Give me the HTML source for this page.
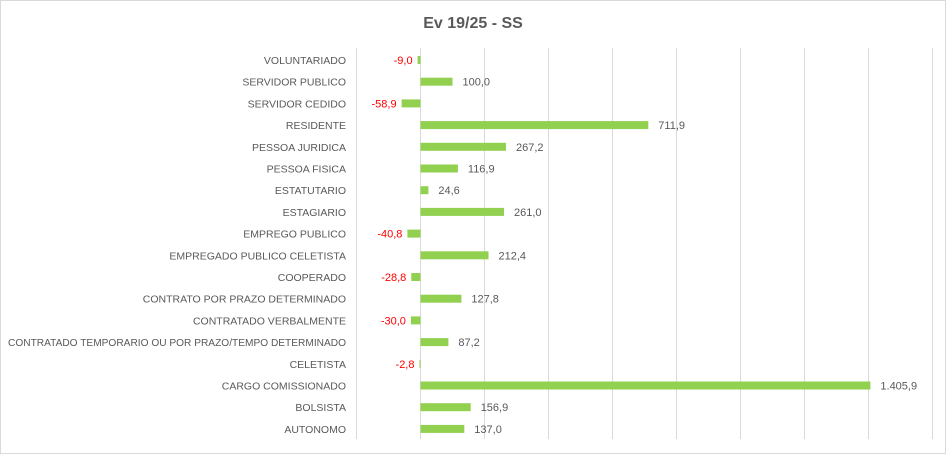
<!DOCTYPE html>
<html><head><meta charset="utf-8"><style>
html,body{margin:0;padding:0;background:#fff;}
svg{display:block;font-family:"Liberation Sans",sans-serif;}
</style></head><body>
<svg width="947" height="455" viewBox="0 0 947 455" xmlns="http://www.w3.org/2000/svg">
<rect x="0.5" y="0.5" width="945" height="453" fill="#fff" stroke="#D9D9D9"/>
<text x="473" y="28" text-anchor="middle" font-size="16" font-weight="bold" fill="#595959">Ev 19/25 - SS</text>
<g stroke="#D9D9D9" stroke-width="1">
<line x1="356.5" y1="48" x2="356.5" y2="439"/>
<line x1="420.5" y1="48" x2="420.5" y2="439"/>
<line x1="484.5" y1="48" x2="484.5" y2="439"/>
<line x1="548.5" y1="48" x2="548.5" y2="439"/>
<line x1="612.5" y1="48" x2="612.5" y2="439"/>
<line x1="676.5" y1="48" x2="676.5" y2="439"/>
<line x1="740.5" y1="48" x2="740.5" y2="439"/>
<line x1="804.5" y1="48" x2="804.5" y2="439"/>
<line x1="868.5" y1="48" x2="868.5" y2="439"/>
<line x1="932.5" y1="48" x2="932.5" y2="439"/>
</g>
<g font-size="10.5" fill="#595959" text-anchor="end">
<text x="346" y="64">VOLUNTARIADO</text>
<text x="346" y="85.7">SERVIDOR PUBLICO</text>
<text x="346" y="107.4">SERVIDOR CEDIDO</text>
<text x="346" y="129.1">RESIDENTE</text>
<text x="346" y="150.8">PESSOA JURIDICA</text>
<text x="346" y="172.5">PESSOA FISICA</text>
<text x="346" y="194.2">ESTATUTARIO</text>
<text x="346" y="215.9">ESTAGIARIO</text>
<text x="346" y="237.6">EMPREGO PUBLICO</text>
<text x="346" y="259.3">EMPREGADO PUBLICO CELETISTA</text>
<text x="346" y="281">COOPERADO</text>
<text x="346" y="302.7">CONTRATO POR PRAZO DETERMINADO</text>
<text x="346" y="324.4">CONTRATADO VERBALMENTE</text>
<text x="346" y="346.1" textLength="338" lengthAdjust="spacingAndGlyphs">CONTRATADO TEMPORARIO OU POR PRAZO/TEMPO DETERMINADO</text>
<text x="346" y="367.8">CELETISTA</text>
<text x="346" y="389.5">CARGO COMISSIONADO</text>
<text x="346" y="411.2">BOLSISTA</text>
<text x="346" y="432.9">AUTONOMO</text>
</g>
<g fill="#92D050">
<rect x="417.6" y="56" width="2.9" height="8"/>
<rect x="420.5" y="77.7" width="32" height="8"/>
<rect x="401.65" y="99.4" width="18.85" height="8"/>
<rect x="420.5" y="121.1" width="227.8" height="8"/>
<rect x="420.5" y="142.8" width="85.5" height="8"/>
<rect x="420.5" y="164.5" width="37.4" height="8"/>
<rect x="420.5" y="186.2" width="7.9" height="8"/>
<rect x="420.5" y="207.9" width="83.5" height="8"/>
<rect x="407.4" y="229.6" width="13.1" height="8"/>
<rect x="420.5" y="251.3" width="68" height="8"/>
<rect x="411.3" y="273" width="9.2" height="8"/>
<rect x="420.5" y="294.7" width="40.9" height="8"/>
<rect x="410.9" y="316.4" width="9.6" height="8"/>
<rect x="420.5" y="338.1" width="27.9" height="8"/>
<rect x="419.5" y="359.8" width="1" height="8"/>
<rect x="420.5" y="381.5" width="449.9" height="8"/>
<rect x="420.5" y="403.2" width="50.2" height="8"/>
<rect x="420.5" y="424.9" width="43.8" height="8"/>
</g>
<g font-size="11" fill="#595959">
<text x="462.5" y="85.7">100,0</text>
<text x="658.3" y="129.1">711,9</text>
<text x="516" y="150.8">267,2</text>
<text x="467.9" y="172.5">116,9</text>
<text x="438.4" y="194.2">24,6</text>
<text x="514" y="215.9">261,0</text>
<text x="498.5" y="259.3">212,4</text>
<text x="471.4" y="302.7">127,8</text>
<text x="458.4" y="346.1">87,2</text>
<text x="880.4" y="389.5">1.405,9</text>
<text x="480.7" y="411.2">156,9</text>
<text x="474.3" y="432.9">137,0</text>
</g>
<g font-size="11" fill="#FF0000" text-anchor="end">
<text x="412.6" y="64">-9,0</text>
<text x="396.6" y="107.4">-58,9</text>
<text x="402.4" y="237.6">-40,8</text>
<text x="406.3" y="281">-28,8</text>
<text x="405.9" y="324.4">-30,0</text>
<text x="414.5" y="367.8">-2,8</text>
</g>
</svg>
</body></html>
